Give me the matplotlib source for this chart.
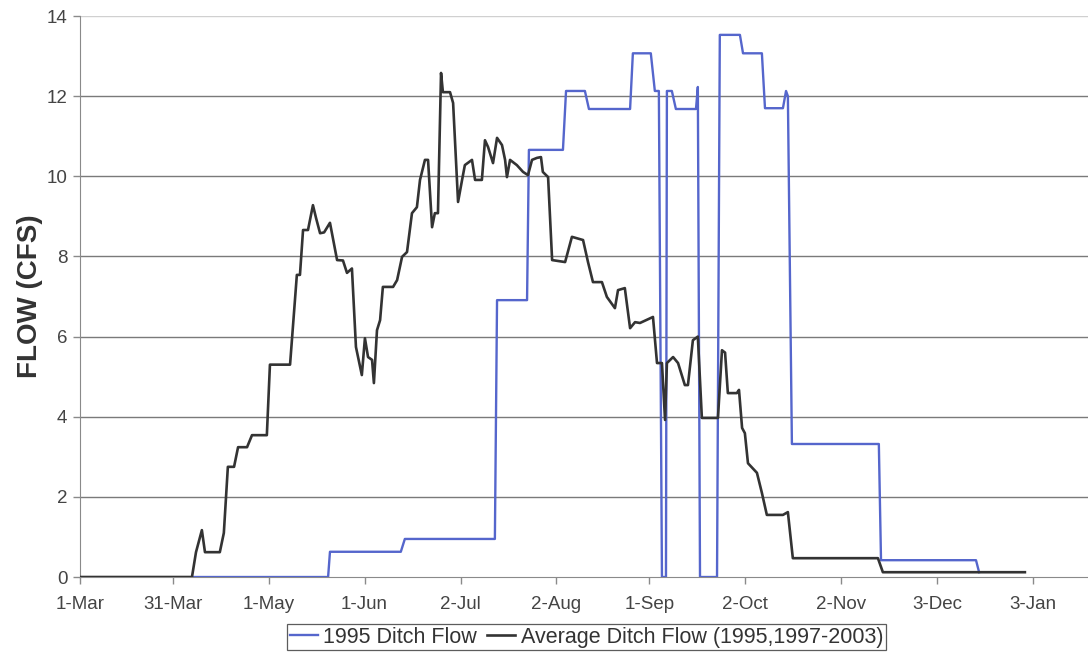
import matplotlib.pyplot as plt

plt.rcParams['font.family'] = ['Liberation Sans', 'DejaVu Sans']

# Day offsets counted from 1-Mar, flow in cfs
avg_days = [0, 36.2, 37.5, 39.4, 40.4, 45.2, 46.5, 47.8, 49.8, 51.1, 54.0, 55.6, 60.4, 61.4,
            67.9, 70.1, 71.1, 72.1, 73.7, 75.3, 76.3, 77.6, 78.9, 80.8, 83.1, 85.0, 86.3,
            87.9, 89.2, 91.1, 92.1, 93.1, 94.4, 95.0, 96.0, 97.0, 97.9, 101.2, 102.5, 104.1,
            105.7, 107.3, 108.9, 109.9, 111.5, 112.5, 113.8, 114.7, 115.7, 116.7, 117.3,
            119.6, 120.6, 122.2, 123.5, 124.4, 126.7, 127.7, 129.9, 130.9, 131.9, 133.5,
            134.8, 136.4, 137.4, 138.0, 139.0, 141.2, 143.2, 144.8, 146.1, 147.7, 149.0,
            149.6, 151.3, 152.6, 156.8, 159.0, 162.6, 164.2, 165.8, 168.7, 170.3, 172.9,
            173.9, 176.1, 177.8, 179.4, 181.0, 185.2, 186.5, 188.1, 189.1, 189.7, 191.7,
            193.3, 195.5, 196.5, 198.1, 199.7, 201.0, 206.2, 207.5, 208.5, 209.4, 212.3,
            213.0, 214.0, 214.9, 215.9, 218.8, 220.4, 222.0, 227.2, 228.8, 230.4, 257.9,
            259.5, 305.4]
avg_flow = [0, 0, 0.62, 1.17, 0.62, 0.62, 1.1, 2.75, 2.75, 3.24, 3.24, 3.54, 3.54, 5.3,
            5.3, 7.54, 7.54, 8.66, 8.66, 9.28, 8.96, 8.58, 8.6, 8.84, 7.91, 7.9, 7.59,
            7.7, 5.74, 5.04, 5.96, 5.49, 5.42, 4.84, 6.16, 6.41, 7.24, 7.24, 7.41, 7.99,
            8.11, 9.08, 9.23, 9.91, 10.41, 10.41, 8.73, 9.08, 9.08, 12.58, 12.1,
            12.1, 11.83, 9.36, 9.91, 10.28, 10.41, 9.91, 9.91, 10.9, 10.73, 10.33,
            10.96, 10.78, 10.41, 9.98, 10.41, 10.28, 10.11, 10.03, 10.41, 10.46, 10.48,
            10.11, 9.98, 7.91, 7.86, 8.49, 8.41, 7.86, 7.36, 7.36, 6.99, 6.71,
            7.16, 7.21, 6.21, 6.36, 6.34, 6.49, 5.34, 5.34, 3.92, 5.34, 5.49,
            5.34, 4.79, 4.79, 5.91, 6.0, 3.97, 3.97, 5.66, 5.6, 4.59, 4.59,
            4.67, 3.72, 3.59, 2.84, 2.6, 2.1, 1.55, 1.55, 1.62, 0.47, 0.47,
            0.12, 0.12]

flow95_days = [36.5, 80.2, 80.8, 103.7, 105.0, 134.1, 134.8, 144.5, 145.1, 156.1, 157.1,
               163.2, 164.5, 177.8, 178.7, 184.5, 185.8, 187.1, 188.1, 189.4, 189.7,
               191.3, 192.6, 199.1, 199.7, 200.4, 205.9, 206.8, 213.3, 214.3, 220.4,
               221.4, 227.2, 228.2, 228.8, 230.1, 258.2, 258.9, 289.6, 290.6]
flow95 = [0, 0, 0.63, 0.63, 0.95, 0.95, 6.91, 6.91, 10.66, 10.66, 12.13,
          12.13, 11.68, 11.68, 13.07, 13.07, 12.13, 12.13, 0, 0, 12.13,
          12.13, 11.68, 11.68, 12.23, 0, 0, 13.53, 13.53, 13.07, 13.07,
          11.7, 11.7, 12.13, 12.0, 3.32, 3.32, 0.42, 0.42, 0.12]

tick_days = [0, 30, 61, 92, 123, 154, 184, 215, 246, 277, 308]
tick_labels = ['1-Mar', '31-Mar', '1-May', '1-Jun', '2-Jul', '2-Aug', '1-Sep',
               '2-Oct', '2-Nov', '3-Dec', '3-Jan']

fig = plt.figure(figsize=(10.88, 6.52), dpi=100)
ax = fig.add_axes([0.0735, 0.115, 0.9265, 0.8604])

ax.plot(flow95_days, flow95, color='#5566cc', lw=1.7, label='1995 Ditch Flow', zorder=3)
ax.plot(avg_days, avg_flow, color='#333333', lw=1.9,
        label='Average Ditch Flow (1995,1997-2003)', zorder=4)

ax.set_xlim(0, 325.8)
ax.set_ylim(0, 14)
ax.set_yticks(range(0, 15, 2))
ax.set_xticks(tick_days)
ax.set_xticklabels(tick_labels)

for y in range(2, 15, 2):
    ax.axhline(y, color='#d0d0d0' if y == 14 else '#7a7a7a', lw=1.0, zorder=1)

for s in ['top', 'right']:
    ax.spines[s].set_visible(False)
ax.spines['left'].set_color('#8a8a8a')
ax.spines['bottom'].set_color('#8a8a8a')
ax.tick_params(axis='both', colors='#8a8a8a', labelcolor='#444444', labelsize=13.5,
               length=5, width=1)
ax.tick_params(axis='y', pad=4)
ax.tick_params(axis='x', pad=9)

ax.set_ylabel('FLOW (CFS)', fontsize=20, fontweight='bold', color='#333333')
ax.yaxis.set_label_coords(-0.037, 0.5)

leg = fig.legend(loc='center', bbox_to_anchor=(0.539, 0.023), ncol=2, fontsize=15.5,
                 frameon=True, fancybox=False, handlelength=1.3, handletextpad=0.25,
                 columnspacing=0.5, borderpad=0.12, borderaxespad=0)
leg.get_frame().set_edgecolor('#333333')
leg.get_frame().set_linewidth(0.9)
for t in leg.get_texts():
    t.set_color('#333333')

fig.savefig('out.png', dpi=100)
